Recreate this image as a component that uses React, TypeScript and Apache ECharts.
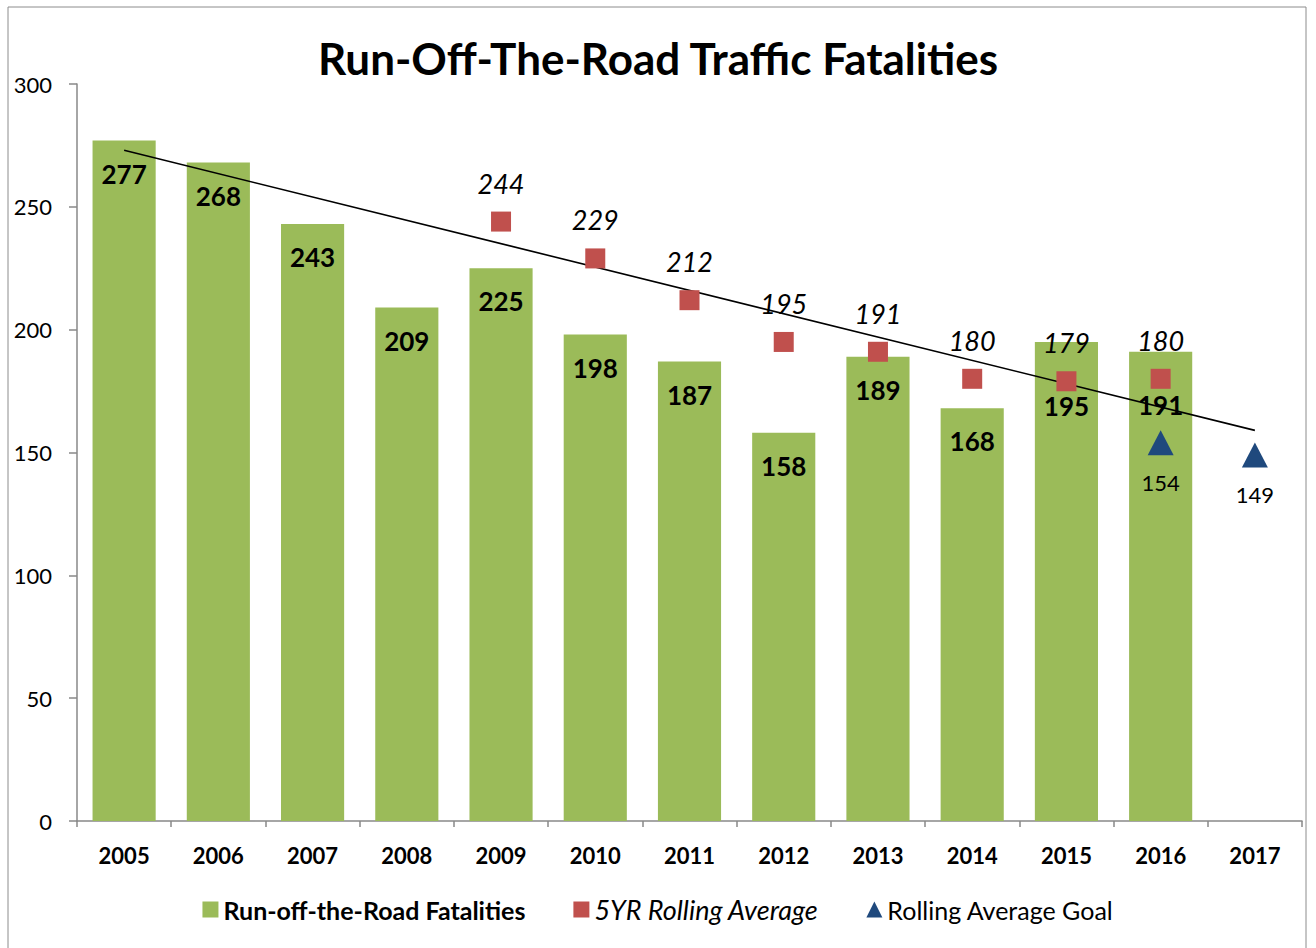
import React, { useEffect, useRef } from "react";
import * as echarts from "echarts";

const years = ["2005", "2006", "2007", "2008", "2009", "2010", "2011", "2012", "2013", "2014", "2015", "2016", "2017"];
const fatalities = [277, 268, 243, 209, 225, 198, 187, 158, 189, 168, 195, 191, null];
const rollingAvg = [null, null, null, null, 244, 229, 212, 195, 191, 180, 179, 180, null];
const rollingGoal = [null, null, null, null, null, null, null, null, null, null, null, 154, 149];
const trend = [273, null, null, null, null, null, null, null, null, null, null, null, 159];
const yTicks = [0, 50, 100, 150, 200, 250, 300];

const FONT = "Lato, 'Open Sans', sans-serif";

export default function App() {
  const ref = useRef<HTMLDivElement>(null);
  useEffect(() => {
    document.body.style.margin = "0";
    const chart = echarts.init(ref.current!, null, { renderer: "svg" });
    // Excel-style manually moved labels for the last two bars (avoid marker overlap)
    const barData = fatalities.map((v, i) => {
      if (i === 10) return { value: v, label: { distance: 51 } };
      if (i === 11) return { value: v, label: { distance: 40 } };
      return v;
    });
    chart.setOption({
      animation: false,
      textStyle: { fontFamily: FONT, color: "#000" },
      title: {
        text: "Run-Off-The-Road Traffic Fatalities",
        left: "center",
        top: 31,
        textStyle: { fontFamily: FONT, fontSize: 44, fontWeight: "bold", color: "#000" },
      },
      graphic: [
        {
          type: "rect",
          shape: { x: 8, y: 7, width: 1298, height: 980 },
          style: { fill: "none", stroke: "#8c8c8c", lineWidth: 1 },
          silent: true,
        },
      ],
      legend: {
        bottom: 20,
        left: "center",
        itemGap: 48,
        itemWidth: 16,
        itemHeight: 16,
        textStyle: { fontFamily: FONT, fontSize: 25, color: "#000" },
        data: [
          { name: "Run-off-the-Road Fatalities", icon: "rect", textStyle: { fontWeight: "bold" } },
          { name: "5YR Rolling Average", icon: "rect", textStyle: { fontStyle: "italic", fontSize: 27 } },
          { name: "Rolling Average Goal", icon: "triangle" },
        ],
      },
      grid: { left: 77, right: 14, top: 84, bottom: 127 },
      xAxis: {
        type: "category",
        data: years,
        axisLine: { lineStyle: { color: "#888", width: 1.5 } },
        axisTick: { show: true, length: 6, lineStyle: { color: "#888", width: 1.5 } },
        axisLabel: { fontFamily: FONT, fontSize: 22, fontWeight: "bold", color: "#000", margin: 23 },
      },
      yAxis: {
        type: "value",
        min: yTicks[0],
        max: yTicks[yTicks.length - 1],
        interval: 50,
        splitLine: { show: false },
        axisLine: { show: true, lineStyle: { color: "#888", width: 1.5 } },
        axisTick: { show: true, length: 8, lineStyle: { color: "#888", width: 1.5 } },
        axisLabel: { fontFamily: FONT, fontSize: 22, color: "#000", margin: 25 },
      },
      series: [
        {
          name: "Run-off-the-Road Fatalities",
          type: "bar",
          data: barData,
          barWidth: "67%",
          itemStyle: { color: "#9BBB59" },
          label: {
            show: true,
            position: "insideTop",
            distance: 20,
            fontFamily: FONT,
            fontSize: 26,
            fontWeight: "bold",
            color: "#000",
          },
          z: 1,
        },
        {
          name: "trend",
          type: "line",
          data: trend,
          connectNulls: true,
          showSymbol: false,
          symbol: "none",
          lineStyle: { color: "#000", width: 1.6 },
          z: 3,
          silent: true,
        },
        {
          name: "5YR Rolling Average",
          type: "scatter",
          data: rollingAvg,
          symbol: "rect",
          symbolSize: 20,
          itemStyle: { color: "#C0504D", opacity: 1 },
          label: {
            show: true,
            position: "top",
            distance: 15,
            fontFamily: FONT,
            fontSize: 27,
            fontStyle: "italic",
            color: "#000",
          },
          z: 4,
        },
        {
          name: "Rolling Average Goal",
          type: "scatter",
          data: rollingGoal,
          symbol: "triangle",
          symbolSize: [26, 25],
          itemStyle: { color: "#1F497D", opacity: 1 },
          label: {
            show: true,
            position: "bottom",
            distance: 16,
            fontFamily: FONT,
            fontSize: 22,
            color: "#000",
          },
          z: 4,
        },
      ],
    });
    return () => chart.dispose();
  }, []);
  return <div ref={ref} style={{ width: 1316, height: 948 }} />;
}
